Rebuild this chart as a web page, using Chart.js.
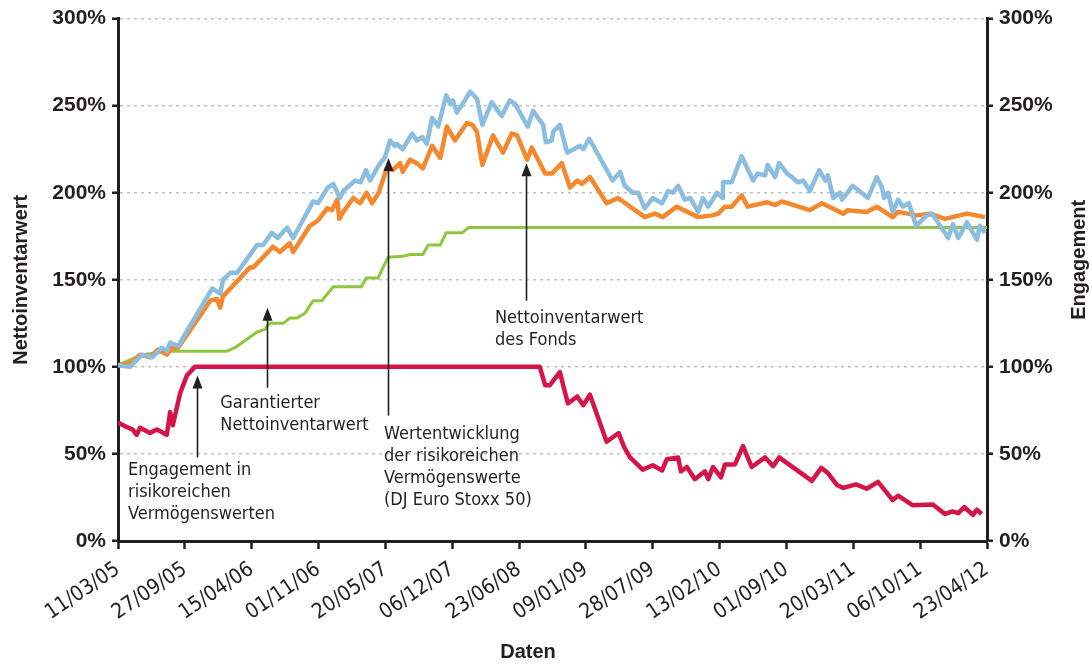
<!DOCTYPE html>
<html>
<head>
<meta charset="utf-8">
<script src="https://cdn.jsdelivr.net/npm/chart.js@4.4.0/dist/chart.umd.min.js"></script>
<style>
html, body { margin: 0; padding: 0; background: #fff; }
</style>
</head>
<body>
<canvas id="chart" width="1092" height="664"></canvas>
<script>
var dateLabels = ['11/03/05', '27/09/05', '15/04/06', '01/11/06', '20/05/07', '06/12/07', '23/06/08',
                  '09/01/09', '28/07/09', '13/02/10', '01/09/10', '20/03/11', '06/10/11', '23/04/12'];
var yTicks = [0, 50, 100, 150, 200, 250, 300];

// points are [position on the date axis (0 = 11/03/05 ... 13 = 23/04/12), value in %]
var stoxx = [[0,101],[0.18,100],[0.36,107],[0.51,105.5],[0.66,111],[0.73,109],[0.78,114],[0.90,112],
  [1.41,145],[1.53,142],[1.57,150],[1.68,154],[1.78,154],[2.08,170],[2.17,170],[2.30,177],[2.39,174],
  [2.53,180],[2.62,174],[2.92,195],[2.99,194],[3.14,203],[3.22,205],[3.32,197],[3.37,201],[3.55,207],
  [3.63,206],[3.71,213],[3.77,207],[3.92,217],[3.99,220],[4.07,230],[4.14,227],[4.17,228],[4.26,225],
  [4.40,234],[4.47,230],[4.55,232],[4.62,228],[4.70,243],[4.79,238],[4.91,256],[4.97,251],[5.01,253],
  [5.07,246],[5.27,258],[5.37,254],[5.45,239],[5.59,252],[5.74,244],[5.86,253],[5.94,251],[6.13,238],
  [6.21,247],[6.36,239],[6.40,229],[6.49,230],[6.51,235],[6.61,239],[6.72,223],[6.91,227],[6.96,225],
  [7.05,231],[7.40,207],[7.51,212],[7.58,204],[7.70,200],[7.78,200],[7.88,191],[8.00,197],[8.14,194],
  [8.23,201],[8.30,200],[8.38,204],[8.48,196],[8.56,197],[8.68,189],[8.75,197],[8.83,192],[8.96,200],
  [9.04,197],[9.05,206],[9.18,206],[9.33,221],[9.50,207],[9.57,211],[9.68,210],[9.72,216],[9.83,209],
  [9.89,217],[10.01,211],[10.08,209],[10.17,206],[10.25,207],[10.35,201],[10.49,213],[10.58,207],
  [10.62,210],[10.70,197],[10.80,200],[10.83,196],[10.99,204],[11.22,197],[11.35,209],[11.43,203],
  [11.46,197],[11.52,200],[11.59,189],[11.67,196],[11.74,192],[11.83,194],[11.94,181],[12.10,187],
  [12.18,188],[12.42,174],[12.49,182],[12.57,174],[12.70,183],[12.85,173],[12.89,181],[12.97,177]];

var fundNav = [[0,101],[0.18,102],[0.33,107],[0.48,105.5],[0.60,110],[0.73,107],[0.81,111],[0.90,111],
  [1.38,138],[1.48,139],[1.53,134],[1.57,140.5],[1.78,149],[1.97,157],[2.02,157],[2.32,169],[2.42,166],
  [2.57,171],[2.62,166],[2.87,181],[2.99,184],[3.13,191],[3.20,190],[3.28,196],[3.31,185],[3.37,189],
  [3.52,197],[3.62,194],[3.72,200],[3.80,194],[3.90,200],[4.02,214],[4.11,213],[4.22,217],[4.26,212],
  [4.37,219],[4.47,217],[4.56,214],[4.70,227],[4.82,220],[4.92,238],[5.04,230],[5.22,240],[5.30,239],
  [5.37,235],[5.45,216],[5.61,233],[5.76,223],[5.89,234],[5.97,233],[6.12,219],[6.19,226],[6.39,211],
  [6.49,211],[6.64,217],[6.76,203],[6.87,207],[6.94,205],[7.06,209],[7.31,194],[7.48,197],[7.88,186],
  [8.03,188],[8.15,186],[8.36,192],[8.68,186],[8.89,187],[8.98,188],[9.08,192],[9.18,192],[9.33,198.5],
  [9.42,192],[9.71,194.5],[9.83,193],[9.93,195],[10.35,190],[10.53,194],[10.85,188],[10.92,190],
  [11.20,189],[11.35,192],[11.59,186],[11.67,189],[11.95,187],[12.15,188],[12.37,185],[12.70,188],[12.97,186]];

var guaranteedNav = [[0,101],[0.36,107],[0.78,109],[1.63,109],[1.75,111],[2.08,120],[2.20,121.5],
  [2.26,125],[2.47,125],[2.57,128],[2.68,128],[2.80,131],[2.92,138],[3.05,138],[3.22,146],[3.64,146],
  [3.71,151],[3.89,151],[4.04,163],[4.26,163.5],[4.37,164.5],[4.56,164.5],[4.64,170],[4.82,170],
  [4.91,177],[5.15,177],[5.24,180],[13,180]];

var exposure = [[0,68],[0.10,66],[0.22,64],[0.28,61],[0.33,65],[0.48,62],[0.58,64],[0.73,61],[0.78,74],
  [0.82,66.5],[0.93,85],[1.03,95],[1.15,100],[6.31,100],[6.39,89.5],[6.46,89.5],[6.61,97],[6.73,79],
  [6.87,83],[6.96,78],[7.06,84],[7.31,57],[7.49,62],[7.57,54],[7.66,48],[7.85,41],[8.00,43.5],[8.14,40.5],
  [8.21,47],[8.38,48],[8.42,40],[8.51,42.5],[8.63,35.5],[8.78,40],[8.83,35.5],[8.90,42.5],[9.02,36.5],
  [9.08,44],[9.23,44],[9.35,54.5],[9.48,42.5],[9.68,48],[9.80,43],[9.89,48],[10.38,34.5],[10.52,42],
  [10.62,39],[10.76,32],[10.85,30.5],[11.04,32.5],[11.20,30],[11.37,34],[11.59,23.5],[11.67,26],
  [11.89,20.5],[12.19,21],[12.37,15.5],[12.48,17],[12.57,16],[12.66,19.5],[12.79,15],[12.85,18],[12.92,15.5]];

// callouts: arrow x, arrow tip / tail value, text x, first text line value, lines
var callouts = [
  { ax: 1.18, tip: 95, tail: 48, tx: 0.15, ty: 40.5, lines: ['Engagement in', 'risikoreichen', 'Vermögenswerten'] },
  { ax: 2.23, tip: 134, tail: 88, tx: 1.53, ty: 79, lines: ['Garantierter', 'Nettoinventarwert'] },
  { ax: 4.04, tip: 220, tail: 72, tx: 3.98, ty: 61, lines: ['Wertentwicklung', 'der risikoreichen', 'Vermögenswerte', '(DJ Euro Stoxx 50)'] },
  { ax: 6.10, tip: 217, tail: 138, tx: 5.64, ty: 128, lines: ['Nettoinventarwert', 'des Fonds'] }
];

var ink = '#231f20';
var textFont = '"DejaVu Sans Condensed", "Liberation Sans", sans-serif';
var boldFont = '"Liberation Sans", Arial, sans-serif';

function toPoints(arr) {
    return arr.map(function (p) { return { x: p[0], y: p[1] }; });
}

var calloutPlugin = {
    id: 'callouts',
    afterDraw: function (chart) {
        var ctx = chart.ctx;
        var xs = chart.scales.x, ys = chart.scales.y;
        ctx.save();
        ctx.strokeStyle = ink;
        ctx.fillStyle = ink;
        ctx.lineWidth = 1.6;
        callouts.forEach(function (c) {
            var x = Math.round(xs.getPixelForValue(c.ax)) + 0.5;
            var yTip = ys.getPixelForValue(c.tip);
            var yTail = ys.getPixelForValue(c.tail);
            ctx.beginPath();
            ctx.moveTo(x, yTail);
            ctx.lineTo(x, yTip + 10);
            ctx.stroke();
            ctx.beginPath();
            ctx.moveTo(x, yTip);
            ctx.lineTo(x - 5, yTip + 13);
            ctx.lineTo(x + 5, yTip + 13);
            ctx.closePath();
            ctx.fill();

            ctx.font = '18px ' + textFont;
            ctx.textAlign = 'left';
            ctx.textBaseline = 'middle';
            var tx = xs.getPixelForValue(c.tx);
            var ty = ys.getPixelForValue(c.ty);
            c.lines.forEach(function (line, i) {
                ctx.fillText(line, tx, ty + i * 22);
            });
        });

        // axis titles
        var area = chart.chartArea;
        var midY = (area.top + area.bottom) / 2;
        ctx.font = 'bold 20px ' + boldFont;
        ctx.textAlign = 'center';
        ctx.textBaseline = 'middle';
        ctx.save();
        ctx.translate(21, midY);
        ctx.rotate(-Math.PI / 2);
        ctx.fillText('Nettoinventarwert', 0, 0);
        ctx.restore();
        ctx.save();
        ctx.translate(chart.width - 13, midY - 20);
        ctx.rotate(-Math.PI / 2);
        ctx.fillText('Engagement', 0, 0);
        ctx.restore();
        ctx.fillText('Daten', 528, 652);
        ctx.restore();
    }
};

function yAxis(position, width, onArea) {
    return {
        type: 'linear',
        position: position,
        min: 0,
        max: 300,
        afterBuildTicks: function (scale) {
            scale.ticks = yTicks.map(function (v) { return { value: v }; });
        },
        afterFit: function (scale) { scale.width = width; },
        ticks: {
            color: ink,
            padding: 6,
            font: { family: boldFont, size: 21, weight: 'bold' },
            callback: function (v) { return v + '%'; }
        },
        grid: {
            drawOnChartArea: onArea,
            color: '#c2c2c2',
            lineWidth: 1.5,
            tickLength: 6,
            tickColor: ink,
            tickWidth: 2.5,
            tickBorderDash: []
        },
        border: { color: ink, width: 3, dash: [3, 4] }
    };
}

var ctx = document.getElementById('chart').getContext('2d');
var myChart = new Chart(ctx, {
    type: 'line',
    data: {
        datasets: [{
            label: 'Wertentwicklung der risikoreichen Vermögenswerte (DJ Euro Stoxx 50)',
            data: toPoints(stoxx),
            borderColor: '#8bbde1',
            borderWidth: 4.5,
            order: 1
        }, {
            label: 'Nettoinventarwert des Fonds',
            data: toPoints(fundNav),
            borderColor: '#f5872c',
            borderWidth: 4.5,
            order: 2
        }, {
            label: 'Garantierter Nettoinventarwert',
            data: toPoints(guaranteedNav),
            borderColor: '#8dc63f',
            borderWidth: 3,
            order: 3
        }, {
            label: 'Engagement in risikoreichen Vermögenswerten',
            data: toPoints(exposure),
            borderColor: '#d5144a',
            borderWidth: 4.5,
            yAxisID: 'y2',
            order: 4
        }]
    },
    options: {
        responsive: false,
        animation: false,
        devicePixelRatio: 1,
        layout: { padding: { top: 18, left: 0, right: 0, bottom: 0 } },
        elements: {
            point: { radius: 0 },
            line: { tension: 0, fill: false, borderJoinStyle: 'round' }
        },
        plugins: {
            legend: { display: false },
            tooltip: { enabled: false }
        },
        scales: {
            x: {
                type: 'linear',
                min: 0,
                max: 13,
                afterBuildTicks: function (scale) {
                    scale.ticks = dateLabels.map(function (d, i) { return { value: i }; });
                },
                afterFit: function (scale) { scale.height = 664 - 541; },
                ticks: {
                    autoSkip: false,
                    minRotation: 34,
                    maxRotation: 34,
                    padding: 8,
                    color: ink,
                    font: { family: textFont, size: 21 },
                    callback: function (v) { return dateLabels[v]; }
                },
                grid: {
                    drawOnChartArea: false,
                    tickLength: 8,
                    tickColor: ink,
                    tickWidth: 2.5
                },
                border: { color: ink, width: 3 }
            },
            y: yAxis('left', 118, true),
            y2: yAxis('right', 1092 - 987, false)
        }
    },
    plugins: [calloutPlugin]
});
</script>
</body>
</html>
